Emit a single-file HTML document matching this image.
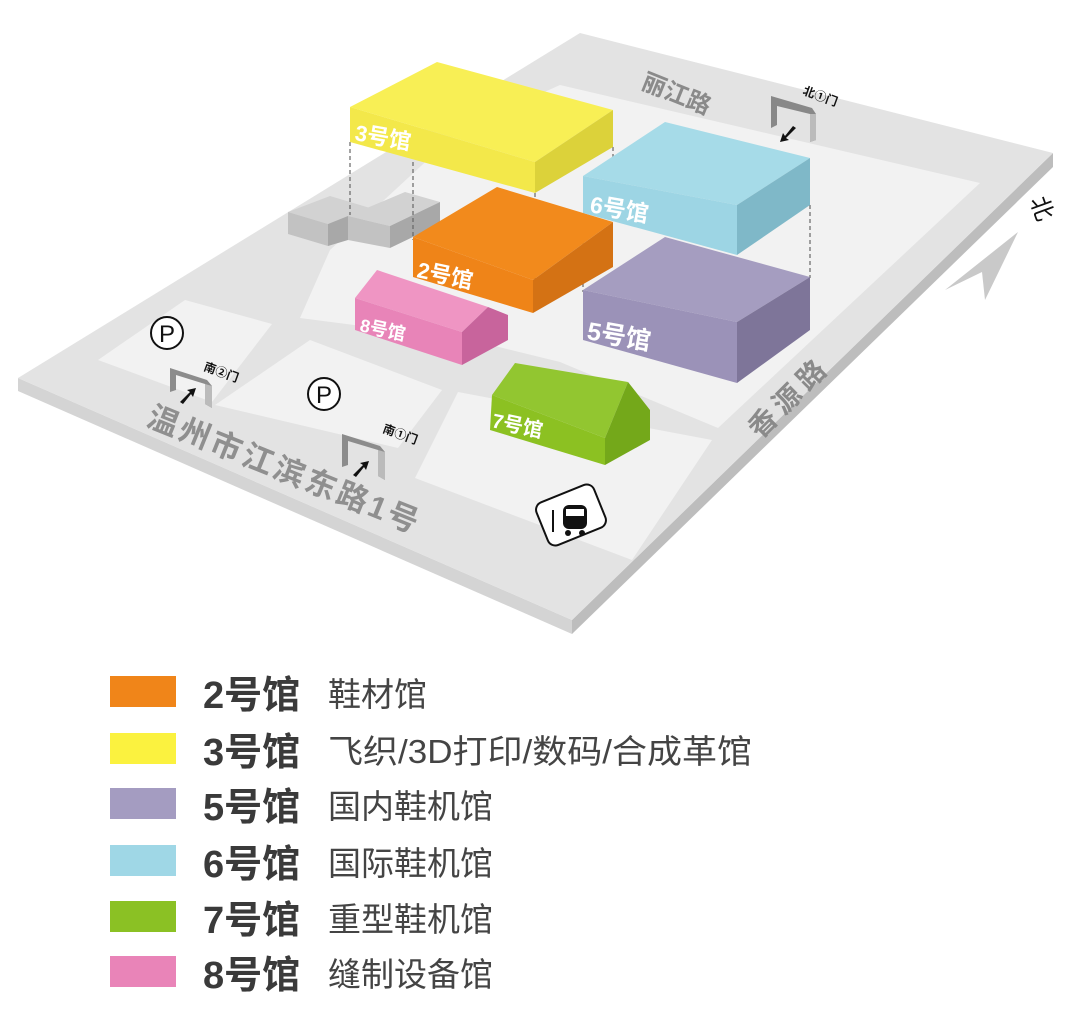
<!DOCTYPE html>
<html><head><meta charset="utf-8"><style>
html,body{margin:0;padding:0;background:#fff;}
body{width:1080px;height:1010px;overflow:hidden;font-family:"Liberation Sans","Noto Sans CJK SC",sans-serif;}
</style></head><body>
<svg width="1080" height="1010" viewBox="0 0 1080 1010" xmlns="http://www.w3.org/2000/svg" font-family="Liberation Sans, Noto Sans CJK SC, sans-serif">
<polygon points="18,378 572,620 572,634 18,391" fill="#d4d4d4"/>
<polygon points="572,620 1053,153 1053,167 572,634" fill="#bdbdbd"/>
<polygon points="580,33 1053,153 572,620 18,378" fill="#e3e3e3"/>
<polygon points="560,85 980,183 718,428 560,362 470,340 300,318 330,250 460,130" fill="#f2f2f2"/>
<polygon points="185,300 272,324 212,402 98,360" fill="#f2f2f2"/>
<polygon points="310,340 442,390 398,448 215,405" fill="#f2f2f2"/>
<polygon points="458,392 712,440 632,560 415,478" fill="#f2f2f2"/>
<!-- gray buildings -->
<polygon points="288,212 330,196 370,208 328,224" fill="#d2d2d2"/>
<polygon points="288,212 328,224 328,246 288,234" fill="#c2c2c2"/>
<polygon points="328,224 348,216 348,240 328,246" fill="#a8a8a8"/>
<polygon points="348,216 405,192 440,202 390,226" fill="#d2d2d2"/>
<polygon points="348,216 390,226 390,248 348,240" fill="#c2c2c2"/>
<polygon points="390,226 440,202 440,224 390,248" fill="#a8a8a8"/>
<g stroke="#666" stroke-width="1.2" stroke-dasharray="4,3" fill="none">
<line x1="350" y1="142" x2="350" y2="215"/>
<line x1="413" y1="155" x2="413" y2="240"/>
<line x1="535" y1="193" x2="535" y2="280"/>
<line x1="613" y1="147" x2="613" y2="215"/>
<line x1="583" y1="213" x2="583" y2="292"/>
<line x1="810" y1="205" x2="810" y2="278"/>
</g>
<polygon points="413,237 497,187 613,222 533,280" fill="#f28a1c"/>
<polygon points="413,237 533,280 533,313 413,277" fill="#ef8418"/>
<polygon points="533,280 613,222 613,267 533,313" fill="#d47214"/>
<text x="416" y="277" font-size="22" font-weight="bold" fill="#fff" transform="rotate(12 416 277)">2号馆</text>
<polygon points="350,107 437,62 613,110 535,162" fill="#f8ef55"/>
<polygon points="350,107 535,162 535,193 350,142" fill="#f3e84a"/>
<polygon points="535,162 613,110 613,147 535,193" fill="#dcd23a"/>
<text x="354" y="140" font-size="22" font-weight="bold" fill="#fff" transform="rotate(10 354 140)">3号馆</text>
<polygon points="355,298 377,270 488,307 462,332" fill="#ef95c3"/>
<polygon points="355,298 462,332 462,365 355,330" fill="#e884b8"/>
<polygon points="462,332 488,307 508,315 508,340 462,365" fill="#c8649c"/>
<text x="359" y="331" font-size="18" font-weight="bold" fill="#fff" transform="rotate(12 359 331)">8号馆</text>
<polygon points="583,176 665,122 810,158 737,205" fill="#a6dbe8"/>
<polygon points="583,176 737,205 737,255 583,213" fill="#9dd5e4"/>
<polygon points="737,205 810,158 810,205 737,255" fill="#7fb8c8"/>
<text x="589" y="212" font-size="23" font-weight="bold" fill="#fff" transform="rotate(10 589 212)">6号馆</text>
<polygon points="583,290 665,237 810,277 737,322" fill="#a59dc0"/>
<polygon points="583,290 737,322 737,383 583,340" fill="#9b92b8"/>
<polygon points="737,322 810,277 810,330 737,383" fill="#7e7599"/>
<text x="586" y="339" font-size="25" font-weight="bold" fill="#fff" transform="rotate(10 586 339)">5号馆</text>
<polygon points="492,395 515,363 628,382 605,438" fill="#92c630"/>
<polygon points="492,395 605,438 605,465 490,430" fill="#8cc122"/>
<polygon points="605,438 628,382 650,410 650,440 605,465" fill="#74a81a"/>
<text x="491" y="427" font-size="20" font-weight="bold" fill="#fff" transform="rotate(12 491 427)">7号馆</text>
<g>
<polygon points="170,368 207,380 212,386 212,408 205,404 205,384 176,375 176,390 170,392" fill="#8c8c8c"/>
<polygon points="205,384 212,386 212,408 205,404" fill="#bbb"/>
<path d="M180,402 L190,392 L187,390 L196,388 L193,397 L191,394 L183,404Z" fill="#111"/>
<text x="203" y="370" font-size="12" font-weight="bold" fill="#111" transform="rotate(20 203 370)">南②门</text>
<polygon points="342,434 380,446 385,452 385,480 378,476 378,450 348,441 348,465 342,467" fill="#8c8c8c"/>
<polygon points="378,450 385,452 385,480 378,476" fill="#bbb"/>
<path d="M353,475 L363,465 L360,463 L369,461 L366,470 L364,467 L356,477Z" fill="#111"/>
<text x="382" y="432" font-size="12" font-weight="bold" fill="#111" transform="rotate(20 382 432)">南①门</text>
<polygon points="771,96 812,108 816,114 816,140 810,142 810,114 777,106 777,125 771,128" fill="#888"/>
<polygon points="810,114 816,114 816,140 810,142" fill="#bbb"/>
<path d="M796,128 L786,138 L789,140 L780,142 L783,133 L785,136 L793,126Z" fill="#111"/>
<text x="802" y="94" font-size="12" font-weight="bold" fill="#111" transform="rotate(20 802 94)">北①门</text>
</g>
<circle cx="167" cy="333" r="16" fill="#fff" stroke="#111" stroke-width="2"/>
<text x="167" y="342" font-size="24" text-anchor="middle" fill="#111">P</text>
<circle cx="324" cy="394" r="16" fill="#fff" stroke="#111" stroke-width="2"/>
<text x="324" y="403" font-size="24" text-anchor="middle" fill="#111">P</text>
<!-- bus -->
<rect x="540" y="492" width="62" height="46" rx="8" fill="#fff" stroke="#111" stroke-width="2" transform="rotate(-22 571 515)"/>
<rect x="563" y="505" width="24" height="24" rx="6" fill="#111"/>
<rect x="566" y="509" width="18" height="7" fill="#fff"/>
<circle cx="568" cy="533" r="3" fill="#111"/><circle cx="582" cy="533" r="3" fill="#111"/>
<rect x="552" y="510" width="2" height="22" fill="#111"/>
<text x="640" y="88" font-size="24" font-weight="bold" fill="#8a8a8a" transform="rotate(22 640 88)">丽江路</text>
<text x="760" y="440" font-size="28" font-weight="bold" fill="#8a8a8a" letter-spacing="6" transform="rotate(-45 760 440)">香源路</text>
<text x="145" y="425" font-size="31" font-weight="bold" fill="#8f8f8f" letter-spacing="3" transform="rotate(22 145 425)">温州市江滨东路1号</text>
<polygon points="1018,232 945,290 982,272 985,300" fill="#c9c9c9"/>
<text x="1030" y="200" font-size="24" fill="#111" transform="rotate(70 1030 200)">北</text>
<g font-size="38" font-weight="bold" fill="#3a3a3a">
<rect x="110" y="676" width="66" height="31" fill="#f08519"/>
<text x="203" y="708">2号馆</text>
<rect x="110" y="733" width="66" height="31" fill="#fbf23f"/>
<text x="203" y="765">3号馆</text>
<rect x="110" y="788" width="66" height="31" fill="#a49cc1"/>
<text x="203" y="820">5号馆</text>
<rect x="110" y="845" width="66" height="31" fill="#9fd7e6"/>
<text x="203" y="877">6号馆</text>
<rect x="110" y="901" width="66" height="31" fill="#8bc124"/>
<text x="203" y="933">7号馆</text>
<rect x="110" y="956" width="66" height="31" fill="#e984b8"/>
<text x="203" y="988">8号馆</text>
</g>
<g font-size="33" fill="#444">
<text x="328" y="706">鞋材馆</text>
<text x="328" y="763" textLength="424" lengthAdjust="spacingAndGlyphs">飞织/3D打印/数码/合成革馆</text>
<text x="328" y="818">国内鞋机馆</text>
<text x="328" y="875">国际鞋机馆</text>
<text x="328" y="931">重型鞋机馆</text>
<text x="328" y="986">缝制设备馆</text>
</g>
</svg>
</body></html>
